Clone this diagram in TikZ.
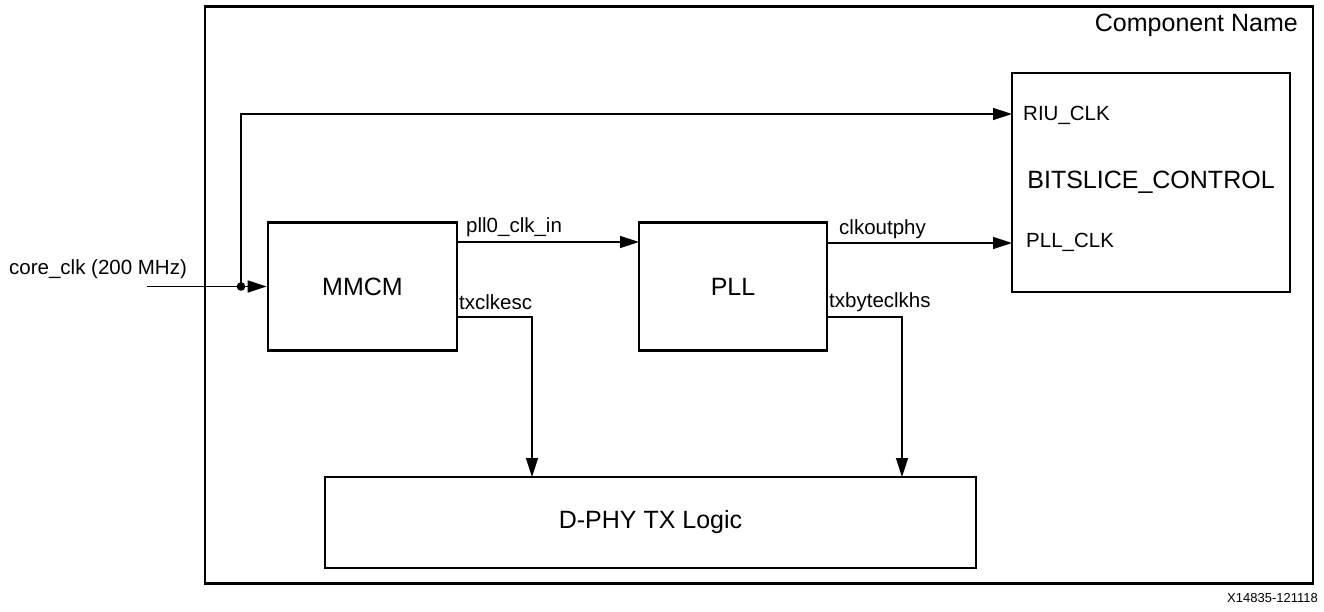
\documentclass[tikz,border=0pt]{standalone}
\usepackage{fontspec}
\setmainfont{Liberation Sans}
\usetikzlibrary{arrows.meta,calc}
\begin{document}
\begin{tikzpicture}[x=1pt,y=-1pt,
  blk/.style={draw,line width=2.7pt,rectangle,inner sep=0pt,font=\fontsize{25}{29}\selectfont},
  sig/.style={line width=1.4pt,-{Triangle[length=19pt,width=12pt]}},
  lbl/.style={inner sep=0pt,font=\fontsize{20.5}{24}\selectfont},
  ]
\useasboundingbox (0,0) rectangle (1324,612);
% outer component
\node[draw,line width=2.7pt,minimum width=1108pt,minimum height=577pt,inner sep=0pt] (comp) at (759,295) {};
\node[lbl,anchor=east,font=\fontsize{25}{29}\selectfont] (cname) at (1298,25) {Component Name};
% blocks
\node[blk,minimum width=189pt,minimum height=128pt] (mmcm) at (362.5,286.5) {MMCM};
\node[blk,minimum width=188pt,minimum height=128pt] (pll) at (733,286.5) {PLL};
\node[blk,minimum width=278pt,minimum height=219pt] (bs) at (1151,182.5) {BITSLICE\_CONTROL};
\node[blk,minimum width=651pt,minimum height=91pt] (dphy) at (650.5,522.5) {D-PHY TX Logic};
% port labels inside BITSLICE
\node[lbl,anchor=west] (riul) at (1023,115) {RIU\_CLK};
\node[lbl,anchor=west] (plll) at (1026,242) {PLL\_CLK};
% coordinates
\coordinate (in) at (147,286.5);
\coordinate (j) at (241,286.5);
\coordinate (riu) at (1012,114);
\coordinate (m1) at (457,242);
\coordinate (p1) at (639,242);
\coordinate (p2) at (827,243);
\coordinate (b2) at (1012,243);
\coordinate (m3) at (457,317);
\coordinate (t1) at (532,477);
\coordinate (p3) at (827,317);
\coordinate (t2) at (902,477);
% input
\node[lbl,anchor=west] (core) at (9,269) {core\_clk (200 MHz)};
\draw[sig] (in) -- (mmcm.west);
\fill (j) circle (4.3pt);
\draw[sig] (j) |- (riu);
% pll0_clk_in
\draw[sig] (m1) -- (p1);
\node[lbl,anchor=west] (l1) at (466,227) {pll0\_clk\_in};
% clkoutphy
\draw[sig] (p2) -- (b2);
\node[lbl,anchor=west] (l2) at (839,229) {clkoutphy};
% txclkesc
\draw[sig] (m3) -| (t1);
\node[lbl,anchor=west] (l3) at (459,302) {txclkesc};
% txbyteclkhs
\draw[sig] (p3) -| (t2);
\node[lbl,anchor=west] (l4) at (829,302) {txbyteclkhs};
% figure id
\node[inner sep=0pt,anchor=east,font=\fontsize{13}{15}\selectfont] (fid) at (1318,598) {X14835-121118};
\end{tikzpicture}
\end{document}
